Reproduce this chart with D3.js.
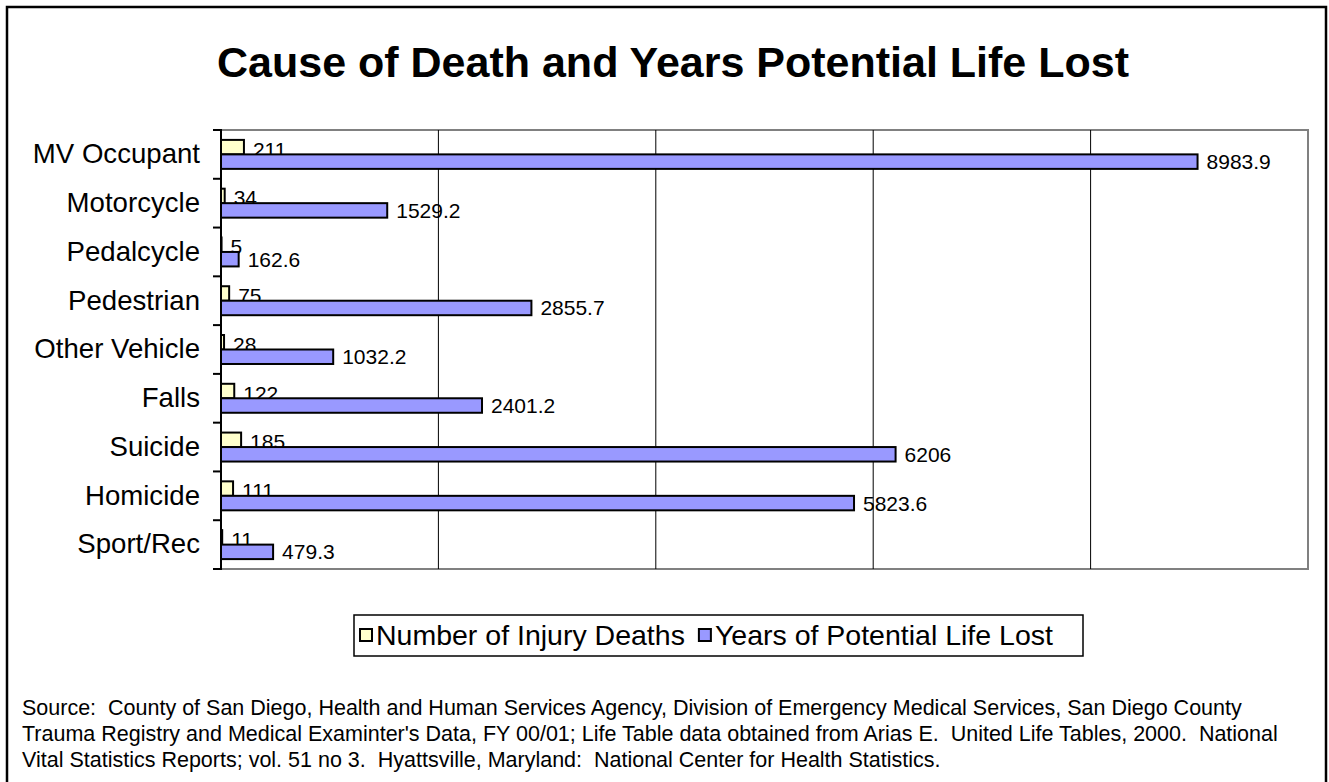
<!DOCTYPE html>
<html>
<head>
<meta charset="utf-8">
<script src="https://cdn.jsdelivr.net/npm/d3@7"></script>
<style>
  html, body { margin: 0; padding: 0; background: #fff; }
  svg { display: block; font-family: "Liberation Sans", Arial, sans-serif; }
  text { white-space: pre; }
</style>
</head>
<body>
<svg id="chart" width="1329" height="782"></svg>
<script>
const categories = ["MV Occupant", "Motorcycle", "Pedalcycle", "Pedestrian", "Other Vehicle", "Falls", "Suicide", "Homicide", "Sport/Rec"];
const injuryDeaths = [211, 34, 5, 75, 28, 122, 185, 111, 11];
const yearsLost = [8983.9, 1529.2, 162.6, 2855.7, 1032.2, 2401.2, 6206, 5823.6, 479.3];
const seriesNames = ["Number of Injury Deaths", "Years of Potential Life Lost"];
const xDomain = [0, 10000];
const title = "Cause of Death and Years Potential Life Lost";
const sourceLines = [
  "Source:  County of San Diego, Health and Human Services Agency, Division of Emergency Medical Services, San Diego County",
  "Trauma Registry and Medical Examinter's Data, FY 00/01; Life Table data obtained from Arias E.  United Life Tables, 2000.  National",
  "Vital Statistics Reports; vol. 51 no 3.  Hyattsville, Maryland:  National Center for Health Statistics."
];

const colors = ["#FFFFCC", "#9999FF"];
const svg = d3.select("#chart");

// background and outer frame
svg.append("rect").attr("x", 0).attr("y", 0).attr("width", 1329).attr("height", 782).attr("fill", "#fff");
svg.append("rect").attr("x", 7).attr("y", 7).attr("width", 1319).attr("height", 820)
  .attr("fill", "none").attr("stroke", "#000").attr("stroke-width", 2.5);

// title
svg.append("text").attr("x", 673).attr("y", 77).attr("text-anchor", "middle")
  .attr("font-size", 43).attr("font-weight", "bold").attr("fill", "#000").text(title);

const pLeft = 221, pRight = 1308, pTop = 130, pBottom = 569;
const x = d3.scaleLinear().domain(xDomain).range([pLeft, pRight]);
const y = d3.scaleBand().domain(categories).range([pTop, pBottom]).paddingInner(0).paddingOuter(0);
const bh = y.bandwidth() * 0.297;
const offset = (y.bandwidth() - 2 * bh) / 2;

// plot area border
svg.append("rect").attr("x", pLeft).attr("y", pTop).attr("width", pRight - pLeft).attr("height", pBottom - pTop)
  .attr("fill", "#fff").attr("stroke", "#808080").attr("stroke-width", 2);

// gridlines
const gridTicks = x.ticks(5).filter(t => t > xDomain[0] && t < xDomain[1]);
svg.append("g").selectAll("line").data(gridTicks).join("line")
  .attr("x1", d => x(d)).attr("x2", d => x(d)).attr("y1", pTop).attr("y2", pBottom)
  .attr("stroke", "#000").attr("stroke-width", 1);

// y axis labels
const yAxis = d3.axisLeft(y).tickSize(0).tickPadding(pLeft - 200);
const gy = svg.append("g").attr("transform", `translate(${pLeft},0)`).call(yAxis);
gy.select(".domain").remove();
gy.selectAll("text").attr("font-size", 27.6).attr("fill", "#000")
  .attr("font-family", '"Liberation Sans", Arial, sans-serif');

// axis line + tick marks at band boundaries
const boundaries = categories.map(c => y(c)).concat([pBottom]);
svg.append("g").selectAll("line").data(boundaries).join("line")
  .attr("x1", pLeft - 8).attr("x2", pLeft).attr("y1", d => d).attr("y2", d => d)
  .attr("stroke", "#000").attr("stroke-width", 2);
svg.append("line").attr("x1", pLeft).attr("x2", pLeft).attr("y1", pTop - 1).attr("y2", pBottom + 1)
  .attr("stroke", "#000").attr("stroke-width", 2);

// series 1 bars
svg.append("g").selectAll("rect").data(categories).join("rect")
  .attr("x", pLeft).attr("y", (c) => y(c) + offset)
  .attr("width", (c, i) => x(injuryDeaths[i]) - pLeft).attr("height", bh)
  .attr("fill", colors[0]).attr("stroke", "#000").attr("stroke-width", 2);
svg.append("g").selectAll("text").data(categories).join("text")
  .attr("x", (c, i) => x(injuryDeaths[i]) + 9).attr("y", c => y(c) + offset + bh / 2 + 2)
  .attr("dominant-baseline", "central").attr("font-size", 21).attr("fill", "#000")
  .text((c, i) => injuryDeaths[i]);

// series 2 bars
svg.append("g").selectAll("rect").data(categories).join("rect")
  .attr("x", pLeft).attr("y", (c) => y(c) + offset + bh)
  .attr("width", (c, i) => x(yearsLost[i]) - pLeft).attr("height", bh)
  .attr("fill", colors[1]).attr("stroke", "#000").attr("stroke-width", 2);
svg.append("g").selectAll("text").data(categories).join("text")
  .attr("x", (c, i) => x(yearsLost[i]) + 9).attr("y", c => y(c) + offset + bh * 1.5)
  .attr("dominant-baseline", "central").attr("font-size", 21).attr("fill", "#000")
  .text((c, i) => yearsLost[i]);

// legend
const lg = svg.append("g");
lg.append("rect").attr("x", 354).attr("y", 615).attr("width", 729).attr("height", 41)
  .attr("fill", "#fff").attr("stroke", "#000").attr("stroke-width", 1.5);
let lx = 360;
seriesNames.forEach((name, i) => {
  lg.append("rect").attr("x", lx).attr("y", 629).attr("width", 12).attr("height", 12)
    .attr("fill", colors[i]).attr("stroke", "#000").attr("stroke-width", 2);
  const t = lg.append("text").attr("x", lx + 16).attr("y", 645).attr("font-size", 28.5).attr("fill", "#000").text(name);
  lx = lx + 16 + t.node().getComputedTextLength() + 14;
});

// source
svg.append("g").selectAll("text").data(sourceLines).join("text")
  .attr("x", 22).attr("y", (d, i) => 715 + i * 26)
  .attr("font-size", 21.5).attr("fill", "#000").text(d => d);
</script>
</body>
</html>
